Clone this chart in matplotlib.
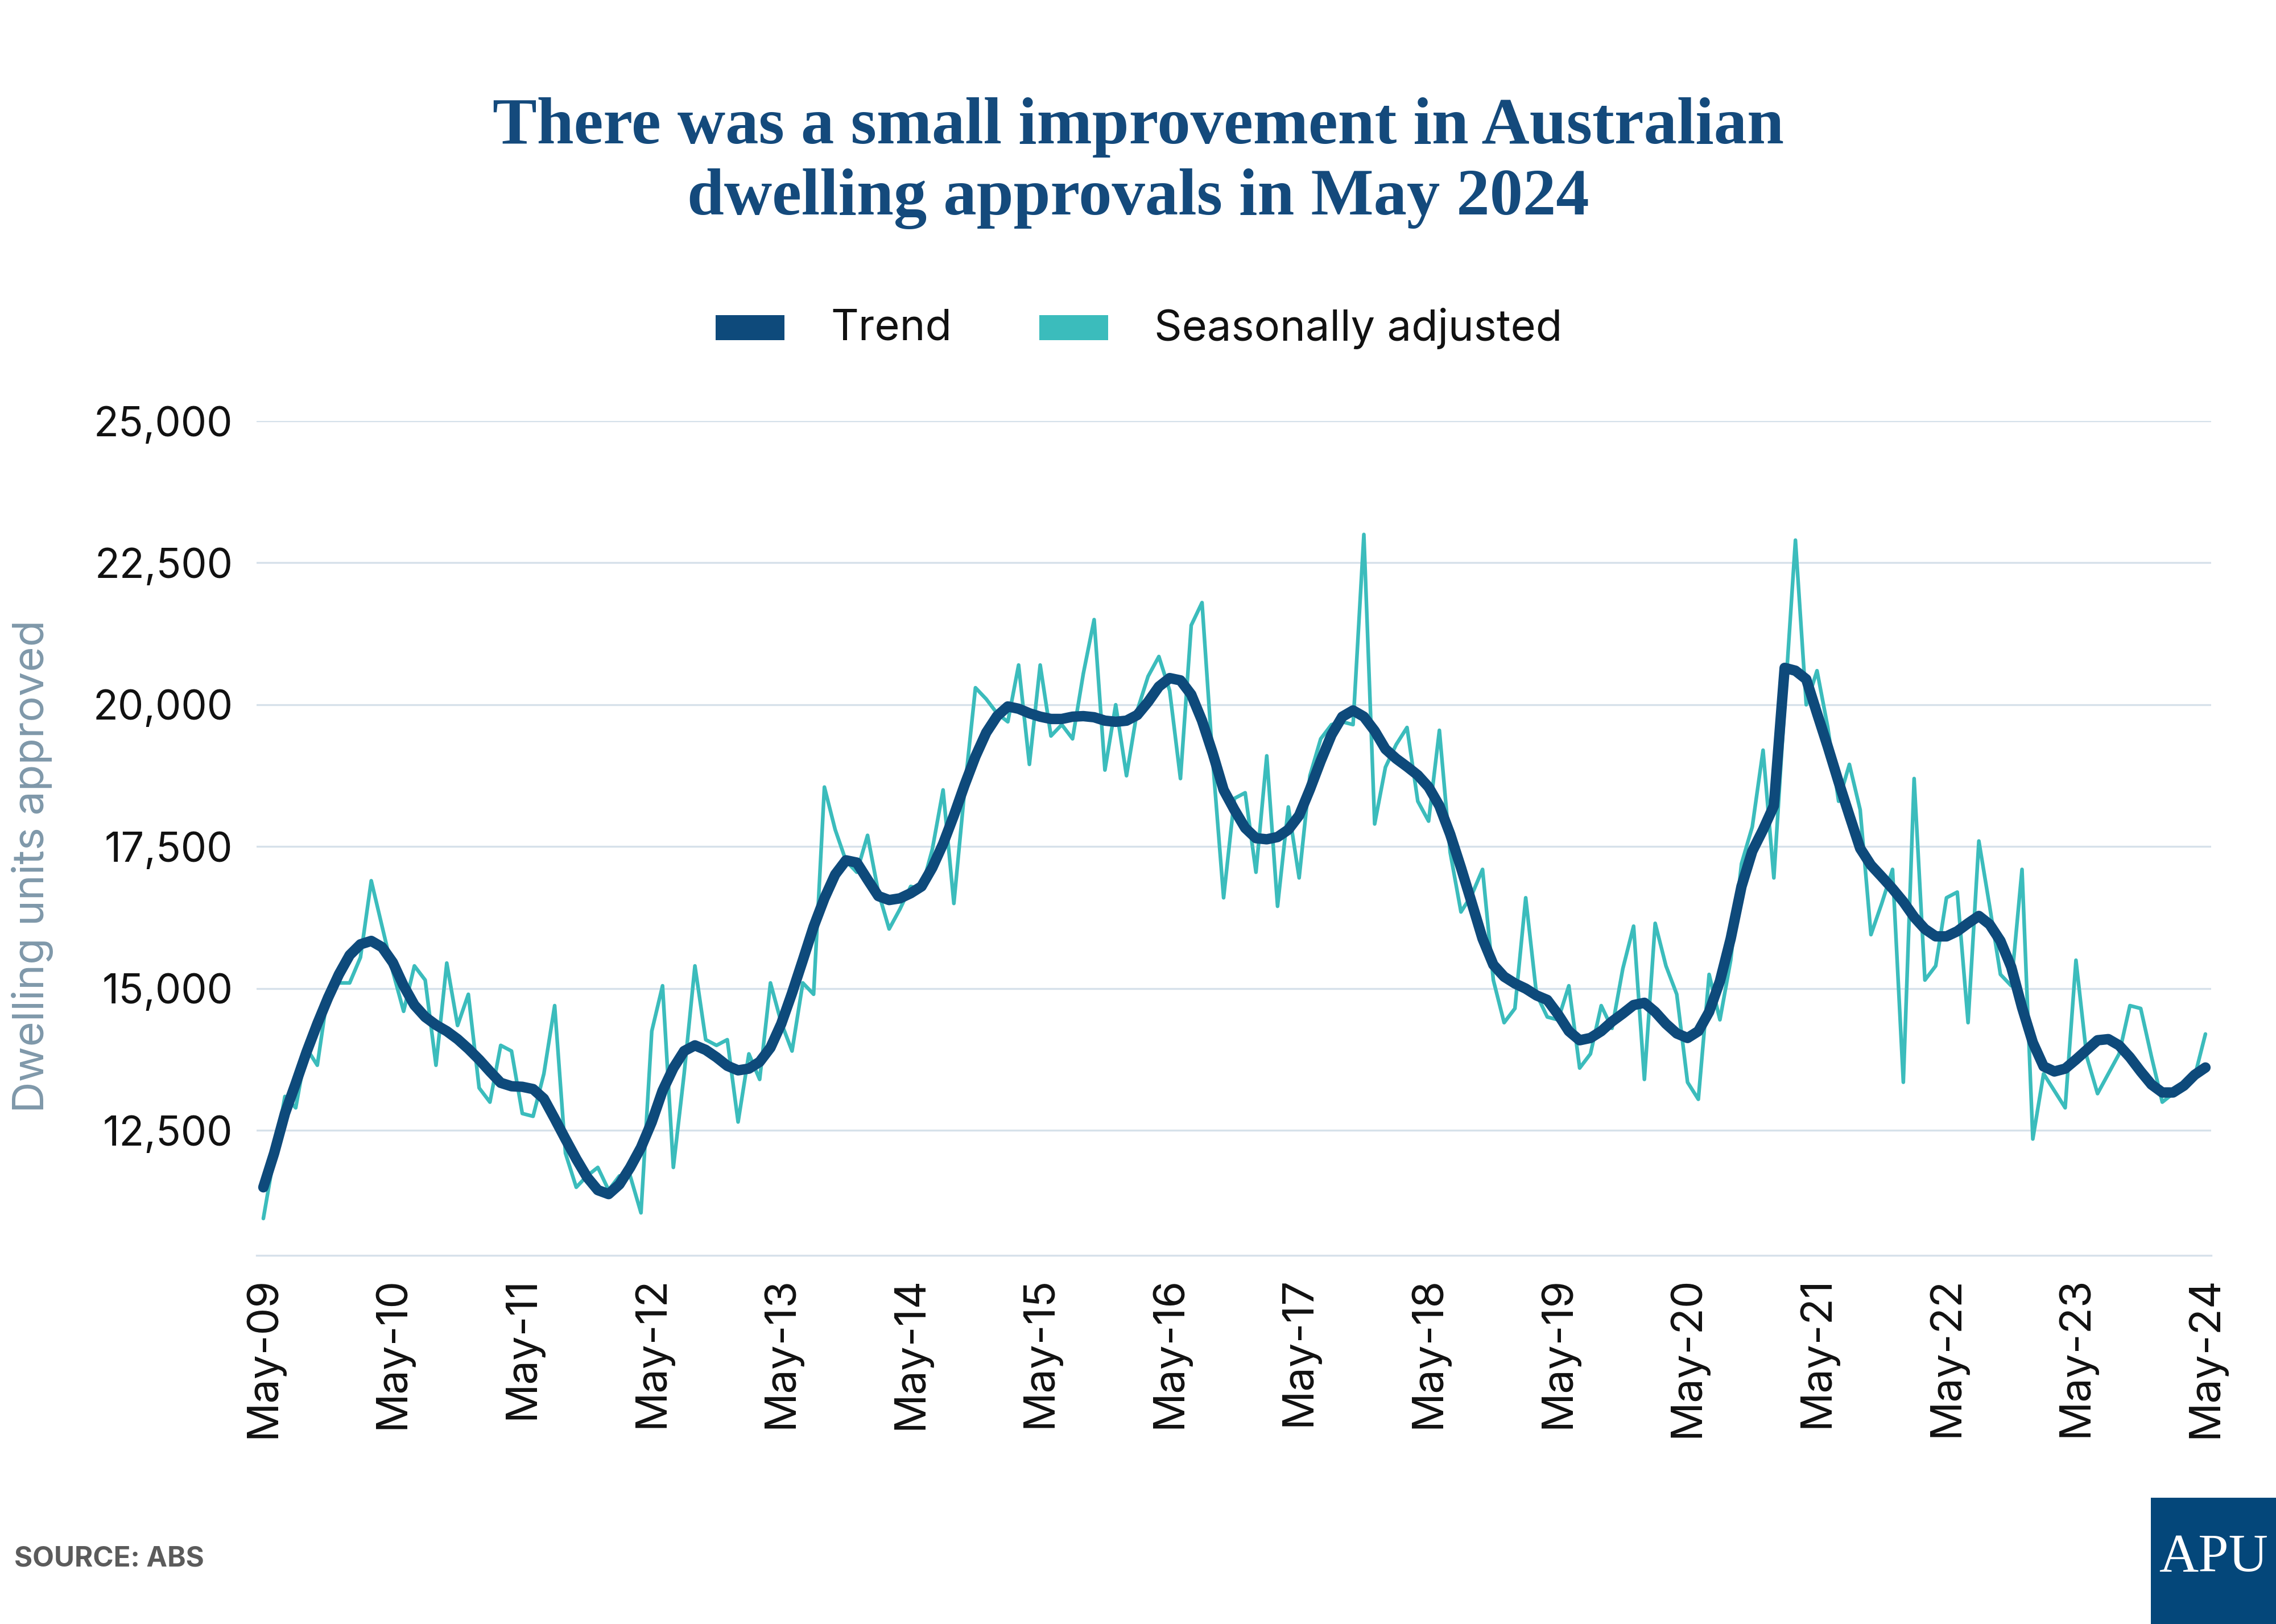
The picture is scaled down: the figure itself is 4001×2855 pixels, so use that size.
import numpy as np
import matplotlib
matplotlib.use("Agg")
import matplotlib.pyplot as plt
from matplotlib.patches import Rectangle

# Dwelling units approved, Australia, monthly May 2009 - May 2024
seasonally_adjusted = [
    10950, 12050, 13100, 12900, 13950, 13650, 14950, 15100, 15100, 15550,
    16900, 16100, 15300, 14600, 15400, 15150, 13650, 15450, 14350, 14900,
    13250, 13000, 14000, 13900, 12800, 12750, 13500, 14700, 12100, 11500,
    11700, 11850, 11450, 11700, 11700, 11050, 14250, 15050, 11850, 13500,
    15400, 14100, 14000, 14100, 12650, 13850, 13400, 15100, 14400, 13900,
    15100, 14900, 18550, 17800, 17250, 17050, 17700, 16700, 16050, 16400,
    16800, 16750, 17450, 18500, 16500, 18500, 20300, 20100, 19850, 19700,
    20700, 18950, 20700, 19450, 19650, 19400, 20550, 21500, 18850, 20000,
    18750, 19900, 20500, 20850, 20250, 18700, 21400, 21800, 19000, 16600,
    18350, 18450, 17050, 19100, 16450, 18200, 16950, 18750, 19400, 19650,
    19700, 19650, 23000, 17900, 18900, 19300, 19600, 18300, 17950, 19550,
    17400, 16350, 16650, 17100, 15150, 14400, 14650, 16600, 14900, 14500,
    14450, 15050, 13600, 13850, 14700, 14300, 15350, 16100, 13400, 16150,
    15400, 14900, 13350, 13050, 15250, 14450, 15500, 17200, 17850, 19200,
    16950, 20000, 22900, 20000, 20600, 19600, 18300, 18950, 18150, 15950,
    16500, 17100, 13350, 18700, 15150, 15400, 16600, 16700, 14400, 17600,
    16450, 15250, 15050, 17100, 12350, 13500, 13200, 12900, 15500, 13800,
    13150, 13500, 13850, 14700, 14650, 13800, 13000, 13150, 13300, 13450,
    14200,
]

trend = [
    11500, 12100, 12800, 13330, 13880, 14380, 14840, 15250, 15590, 15780,
    15840, 15730, 15460, 15050, 14710, 14500, 14360, 14250, 14110, 13940,
    13750, 13540, 13340, 13280, 13270, 13230, 13060, 12710, 12350, 12000,
    11680, 11450, 11380, 11550, 11850, 12200, 12650, 13200, 13600, 13900,
    14000, 13920, 13790, 13640, 13560, 13590, 13710, 13960, 14380, 14920,
    15500, 16090, 16590, 17010, 17260, 17220, 16920, 16630, 16560, 16590,
    16680, 16800, 17130, 17550, 18050, 18590, 19090, 19510, 19800, 19970,
    19930, 19850, 19790, 19750, 19750, 19790, 19800, 19780, 19720, 19700,
    19720, 19820, 20050, 20320, 20470, 20430, 20180, 19720, 19140, 18500,
    18150, 17830, 17650, 17630, 17670, 17800, 18050, 18510, 19010, 19470,
    19790, 19900, 19790, 19540, 19220, 19050, 18910, 18760, 18550, 18220,
    17720, 17130, 16510, 15880, 15420, 15210, 15090, 15000, 14880, 14800,
    14545, 14250, 14090, 14130, 14250, 14420, 14560, 14710, 14750, 14590,
    14380, 14210, 14130, 14250, 14590, 15130, 15880, 16800, 17420, 17800,
    18220, 20650, 20600, 20450, 19850, 19260, 18640, 18050, 17470, 17175,
    16970, 16760, 16530, 16260, 16050, 15920, 15920, 16010, 16150, 16280,
    16130, 15840, 15380, 14670, 14050, 13630, 13540, 13590, 13750, 13920,
    14090, 14110, 14000, 13790, 13540, 13310, 13170, 13170, 13290, 13480,
    13610,
]

x_labels = ["May-09", "May-10", "May-11", "May-12", "May-13", "May-14", "May-15", "May-16",
            "May-17", "May-18", "May-19", "May-20", "May-21", "May-22", "May-23", "May-24"]
y_ticks = [12500, 15000, 17500, 20000, 22500, 25000]

NAVY = "#0E4A7B"
TEAL = "#3BBCBC"
GRID = "#D6E1EA"
TITLE = "#144A7C"

plt.rcParams["font.family"] = ["Inter", "DejaVu Sans"]

W, H = 4001, 2855
fig = plt.figure(figsize=(W / 300, H / 300), dpi=300)
fig.patch.set_facecolor("white")

# plot area in pixels: x 451..3887, y 740..2207
ax = fig.add_axes([451 / W, 1 - 2207 / H, (3887 - 451) / W, (2207 - 740) / H])
months = np.arange(len(trend))

ax.plot(months, seasonally_adjusted, color=TEAL, lw=1.55,
        solid_joinstyle="round", solid_capstyle="round", zorder=3)
ax.plot(months, trend, color=NAVY, lw=4.4,
        solid_joinstyle="round", solid_capstyle="round", zorder=4)

ax.set_xlim(-0.63, 180.53)
ax.set_ylim(10300, 25000)
ax.set_yticks(y_ticks)
ax.set_yticklabels([f"{v:,}" for v in y_ticks])
ax.set_xticks(months[::12])
ax.set_xticklabels(x_labels, rotation=90)

ax.grid(axis="y", color=GRID, lw=0.8)
ax.set_axisbelow(True)
for side in ["top", "right", "left"]:
    ax.spines[side].set_visible(False)
ax.spines["bottom"].set_color(GRID)
ax.spines["bottom"].set_linewidth(0.8)
ax.tick_params(axis="both", length=0, colors="#111111")
ax.tick_params(axis="y", pad=10, labelsize=17.3)
ax.tick_params(axis="x", pad=9, labelsize=18.2)

fig.text(56 / W, 1 - 1523 / H, "Dwelling units approved", rotation=90,
         ha="center", va="center", fontsize=18.2, color="#7F98AA")

# title
fig.text(0.5, 1 - 287 / H,
         "There was a small improvement in Australian\ndwelling approvals in May 2024",
         ha="center", va="center", fontsize=28, fontweight="bold",
         family="Liberation Serif", color=TITLE, linespacing=1.24)

# legend
for x0, label, col in [(1258, "Trend", NAVY), (1827, "Seasonally adjusted", TEAL)]:
    fig.add_artist(Rectangle((x0 / W, 1 - 598 / H), 121 / W, 44 / H,
                             transform=fig.transFigure, color=col, lw=0))
    fig.text((x0 + 202) / W, 1 - 578 / H, label, ha="left", va="center",
             fontsize=18.2, color="#111111")

fig.text(25 / W, 1 - 2740 / H, "SOURCE: ABS", ha="left", va="center",
         fontsize=11.8, fontweight="bold", color="#5B5B5B")

# APU logo box
fig.add_artist(Rectangle((3781 / W, 0), (W - 3781) / W, (H - 2633) / H,
                         transform=fig.transFigure, color="#04477A", lw=0))
fig.text(3891 / W, 1 - 2740 / H, "APU", ha="center", va="center",
         fontsize=23, family="Liberation Serif", color="white")

fig.savefig("out.png", dpi=300)
